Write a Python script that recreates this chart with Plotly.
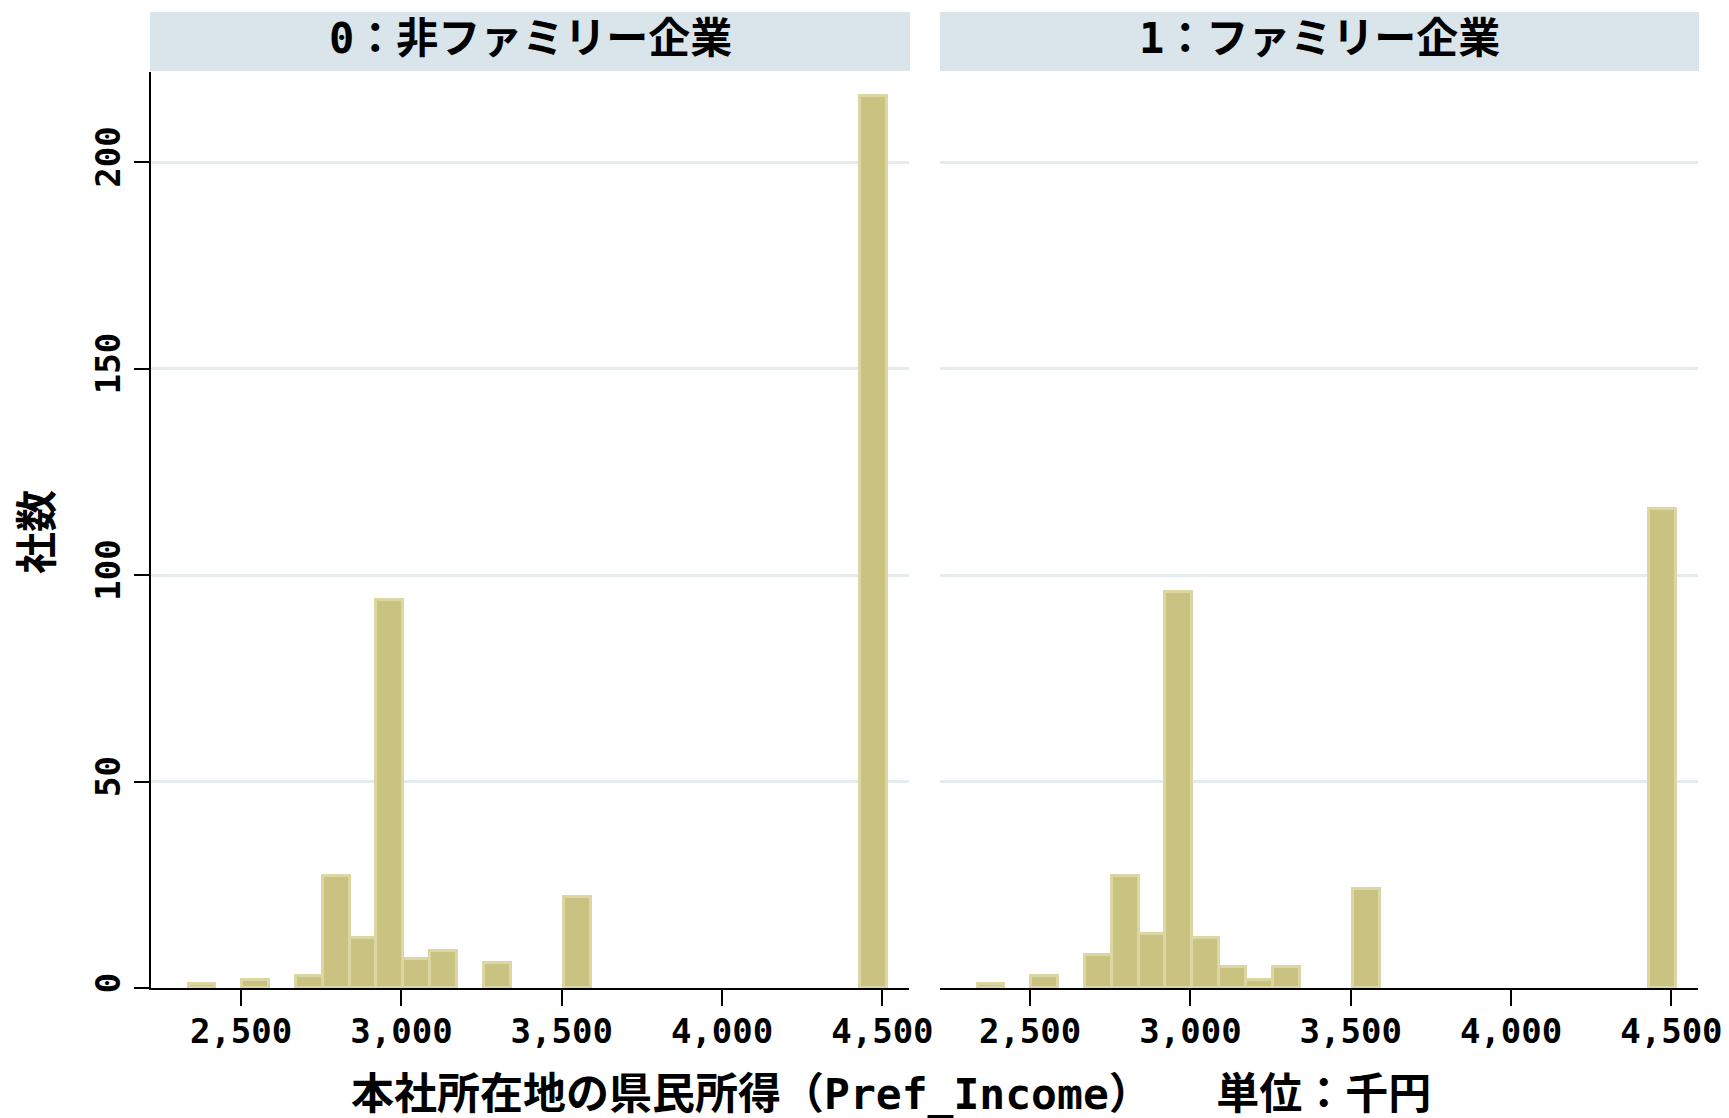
import plotly.graph_objects as go

# Histogram of prefectural income at head-office location, by family-firm flag
income_mid = [2378, 2545, 2713, 2797, 2880, 2964, 3048, 3131, 3215, 3299, 3550, 4471]
count_nonfamily = [1, 2, 3, 27, 12, 94, 7, 9, 0, 6, 22, 216]
count_family = [1, 3, 8, 27, 13, 96, 12, 5, 2, 5, 24, 116]
bin_width = 83.7

panel_titles = ["0：非ファミリー企業", "1：ファミリー企業"]
x_title = "本社所在地の県民所得（Pref_Income）　　単位：千円"
y_title = "社数"
x_ticks = [2500, 3000, 3500, 4000, 4500]
x_tick_labels = ["2,500", "3,000", "3,500", "4,000", "4,500"]
y_ticks = [0, 50, 100, 150, 200]
y_tick_labels = ["0", "50", "100", "150", "200"]

W, H = 1729, 1118
FONT = "DejaVu Sans Mono, Noto Sans CJK JP, sans-serif"
BAR_FILL = "#c9c280"
BAR_EDGE = "#dcd7a2"
STRIP = "#d9e5eb"
GRID = "#e4ecef"


def px_x(v):
    return v / W


def px_y(v):
    return 1 - v / H


fig = go.Figure()
for i, counts in enumerate([count_nonfamily, count_family]):
    xs = [m for m, c in zip(income_mid, counts) if c > 0]
    ys = [c for c in counts if c > 0]
    fig.add_trace(go.Bar(
        x=xs, y=ys, width=bin_width,
        marker=dict(color=BAR_FILL, line=dict(color=BAR_EDGE, width=3)),
        xaxis="x" if i == 0 else "x2", yaxis="y" if i == 0 else "y2",
        showlegend=False, hoverinfo="x+y",
    ))

xrange = [2219, 4583]
yrange = [0, 221.8]
tickfont = dict(family=FONT, size=34, color="black", weight="bold")
xa = dict(range=xrange, tickvals=x_ticks, ticktext=x_tick_labels, ticks="outside",
          ticklen=16, tickwidth=2, tickcolor="black", showline=True, linecolor="black",
          linewidth=2, showgrid=False, zeroline=False, tickfont=tickfont,
          ticklabelstandoff=-4, automargin=False)
fig.update_layout(
    width=W, height=H, margin=dict(l=0, r=0, t=0, b=0),
    paper_bgcolor="white", plot_bgcolor="white", bargap=0,
    xaxis=dict(xa, domain=[px_x(151), px_x(909)], anchor="y"),
    xaxis2=dict(xa, domain=[px_x(940), px_x(1698)], anchor="y2"),
    yaxis=dict(domain=[px_y(988), px_y(72)], range=yrange, tickvals=y_ticks,
               ticktext=y_tick_labels, tickangle=-90, ticks="outside", ticklen=15,
               tickwidth=2, tickcolor="black", showline=True, linecolor="black",
               linewidth=2, showgrid=True, gridcolor=GRID, gridwidth=3,
               zeroline=False, tickfont=tickfont, anchor="x", automargin=False),
    yaxis2=dict(domain=[px_y(988), px_y(72)], range=yrange, tickvals=y_ticks,
                showticklabels=False, ticks="", showline=False, showgrid=True,
                gridcolor=GRID, gridwidth=3, zeroline=False, anchor="x2",
                automargin=False),
)

# Panel header strips
strips = [(150, 910), (940, 1699)]
for (x0, x1), title in zip(strips, panel_titles):
    fig.add_shape(type="rect", xref="paper", yref="paper",
                  x0=px_x(x0), x1=px_x(x1), y0=px_y(71), y1=px_y(12),
                  fillcolor=STRIP, line=dict(width=0), layer="below")
    fig.add_annotation(text=title, xref="paper", yref="paper",
                       x=px_x((x0 + x1) / 2), y=px_y(38), xanchor="center",
                       yanchor="middle", showarrow=False,
                       font=dict(family=FONT, size=42, color="black", weight="bold"))

fig.add_annotation(text=x_title, xref="paper", yref="paper", x=px_x(891), y=px_y(1094),
                   xanchor="center", yanchor="middle", showarrow=False,
                   font=dict(family=FONT, size=43, color="black", weight="bold"))
fig.add_annotation(text=y_title, xref="paper", yref="paper", x=px_x(37), y=px_y(532),
                   xanchor="center", yanchor="middle", showarrow=False, textangle=-90,
                   font=dict(family=FONT, size=42, color="black", weight="bold"))

fig.write_html("out.html")
